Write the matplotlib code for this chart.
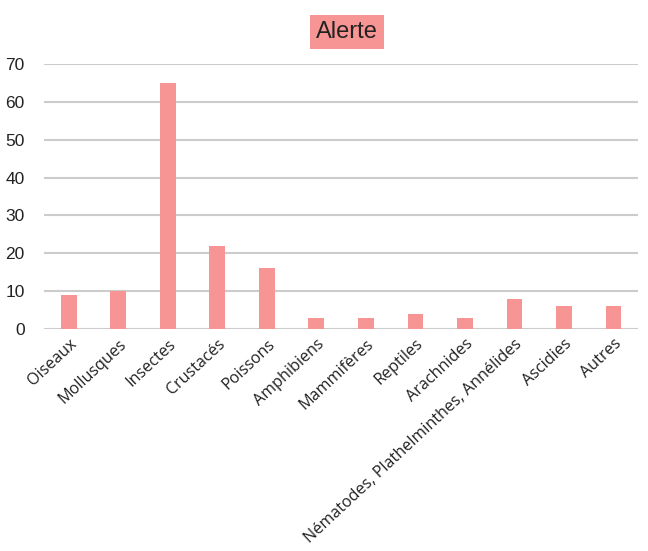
import matplotlib.pyplot as plt
import numpy as np

categories = ['Oiseaux', 'Mollusques', 'Insectes', 'Crustacés', 'Poissons', 'Amphibiens',
              'Mammifères', 'Reptiles', 'Arachnides', 'Nématodes, Plathelminthes, Annélides',
              'Ascidies', 'Autres']
values = [9, 10, 65, 22, 16, 3, 3, 4, 3, 8, 6, 6]

bar_color = '#F79494'

fig = plt.figure(figsize=(6.48, 5.51), dpi=100)
ax = fig.add_axes([0.068, 0.403, 0.917, 0.481])

x = np.arange(len(categories))
ax.bar(x, values, width=0.32, color=bar_color, zorder=3)

ax.set_xlim(-0.5, len(categories) - 0.5)
ax.set_ylim(0, 70)
ax.set_yticks(range(0, 71, 10))
ax.yaxis.grid(True, color='#CCCCCC', linewidth=1.5, zorder=0)
for s in ax.spines.values():
    s.set_visible(False)
ax.tick_params(axis='both', length=0)
ax.tick_params(axis='y', pad=14, labelsize=12.5, labelcolor='#222222')
for lbl in ax.get_yticklabels():
    lbl.set_family('Liberation Sans')

ax.set_xticks(x)
ax.set_xticklabels(categories, rotation=43, ha='right', rotation_mode='anchor',
                   family='Open Sans', fontsize=11.6, color='#222222')
ax.tick_params(axis='x', pad=5)

fig.text(0.536, 0.942, 'Alerte', ha='center', va='center', fontsize=17,
         family='Liberation Sans', color='#222222',
         bbox=dict(boxstyle='square,pad=0.25', facecolor=bar_color, edgecolor='none'))

fig.savefig('out.png', dpi=100)
